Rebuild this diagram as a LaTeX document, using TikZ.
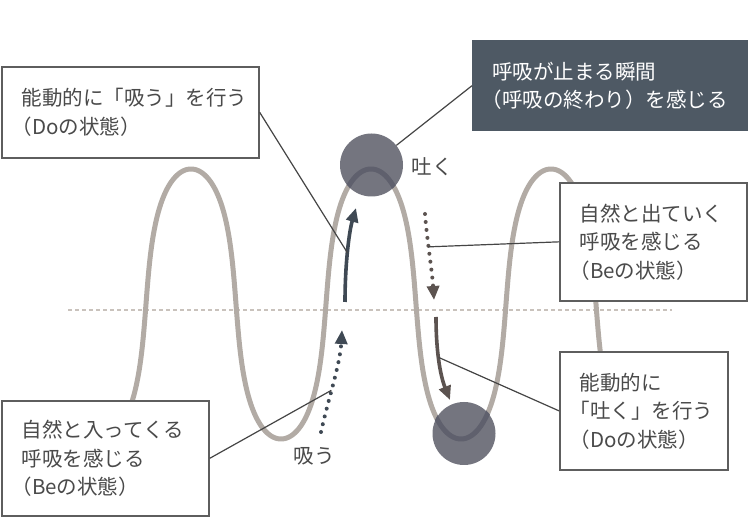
\documentclass[tikz,border=0pt]{standalone}
\usepackage{fontspec}
\newfontfamily\jpfont{Noto Sans CJK JP}
\usetikzlibrary{arrows.meta}
\definecolor{wavecol}{HTML}{B2ABA5}
\definecolor{wavedark}{HTML}{5F606D}
\definecolor{circcol}{HTML}{74757F}
\definecolor{slate}{HTML}{3F4954}
\definecolor{brownish}{HTML}{5C5350}
\definecolor{boxline}{HTML}{5E5E5E}
\definecolor{txt}{HTML}{4A4A4A}
\definecolor{darkbox}{HTML}{4E5964}
\definecolor{guide}{HTML}{C9C2BC}
\definecolor{leader}{HTML}{454545}
\newcommand\jpsq{\hspace*{-.5em}}
\begin{document}
\begin{tikzpicture}[x=1pt,y=-1pt,
  jptext/.style={font=\jpfont\fontsize{20.5}{28.5}\selectfont},
  textbox/.style={jptext, draw=boxline, line width=1.7pt, fill=white, anchor=north west,
    inner xsep=20pt, inner ysep=0pt, align=left, text=txt},
  ball/.style={circle, fill=circcol, inner sep=0pt, minimum size=63pt},
  leaderline/.style={leader, line width=1.2pt},
  wavestroke/.style={line width=5pt, line join=round},
  solidarrow/.style={line width=3.6pt, -{Triangle[length=14pt,width=12pt]}},
  dotarrow/.style={line width=4pt, line cap=round, dash pattern=on 0pt off 8pt, -{Triangle[length=14pt,width=12pt]}},
  label/.style={jptext, text=txt, inner sep=0pt}]
\useasboundingbox (0,0) rectangle (750,518);
\fill[white] (0,0) rectangle (750,518);
% guide line
\coordinate (g1) at (68,310);
\coordinate (g2) at (672,310);
\draw[guide, line width=1.2pt, dash pattern=on 4pt off 3pt] (g1) -- (g2);
% wave
\draw[wavecol, wavestroke] plot[variable=\t, domain=-140:840, samples=600]
  ({191+\t/2+9.17*sin(2*\t)}, {304-135*cos(\t)});
% circles
\node[ball] (tc) at (371.5,165) {};
\node[ball] (bc) at (464,433.5) {};
\begin{scope}
\clip (371.5,165) circle (31.5pt);
\draw[wavedark, wavestroke] plot[variable=\t, domain=280:440, samples=120]
  ({191+\t/2+9.17*sin(2*\t)}, {304-135*cos(\t)});
\end{scope}
\begin{scope}
\clip (464,433.5) circle (32pt);
\draw[wavedark, wavestroke] plot[variable=\t, domain=460:620, samples=120]
  ({191+\t/2+9.17*sin(2*\t)}, {304-135*cos(\t)});
\end{scope}
% arrows
\coordinate (a1s) at (345,302);
\coordinate (a1e) at (356,208);
\draw[slate, solidarrow] (a1s) .. controls (345,265) and (349,232) .. coordinate[pos=0.47] (c1) (a1e);
\coordinate (a2s) at (321,432);
\coordinate (a2e) at (342,330);
\draw[slate, dotarrow] (a2s) .. controls (328,400) and (340,365) .. coordinate[pos=0.42] (c3) (a2e);
\coordinate (a3s) at (425,214);
\coordinate (a3e) at (434,300);
\draw[brownish, dotarrow] (a3s) .. controls (427,240) and (432,270) .. coordinate[pos=0.4] (c2) (a3e);
\coordinate (a4s) at (436,317);
\coordinate (a4e) at (450,400);
\draw[brownish, solidarrow] (a4s) .. controls (436,350) and (440,375) .. coordinate[pos=0.45] (c4) (a4e);
% labels
\node[label] (lhaku) at (432,167) {吐く};
\node[label] (lsuu) at (314,456) {吸う};
% boxes
\node[textbox, text width=217pt, minimum height=91pt] (b1) at (1,66)
  {能動的に「吸う」を行う\\\jpsq（Doの状態）};
\node[jptext, fill=darkbox, anchor=north west, inner xsep=20pt, inner ysep=0pt, align=left,
  text=white, text width=236pt, minimum height=91pt] (dk) at (472,40)
  {呼吸が止まる瞬間\\\jpsq（呼吸の終わり）を感じる};
\node[textbox, text width=147pt, minimum height=118pt] (b2) at (559,182)
  {自然と出ていく\\呼吸を感じる\\\jpsq（Beの状態）};
\node[textbox, text width=167pt, minimum height=115pt] (b3) at (1,400)
  {自然と入ってくる\\呼吸を感じる\\\jpsq（Beの状態）};
\node[textbox, text width=128pt, minimum height=118pt] (b4) at (559,351)
  {能動的に\\\jpsq「吐く」を行う\\\jpsq（Doの状態）};
% leaders
\draw[leaderline] (b1.east) -- (c1);
\draw[leaderline] (dk.west) -- (tc);
\draw[leaderline] (b2.west) -- (c2);
\draw[leaderline] (b3.east) -- (c3);
\draw[leaderline] (b4.west) -- (c4);
\end{tikzpicture}
\end{document}
